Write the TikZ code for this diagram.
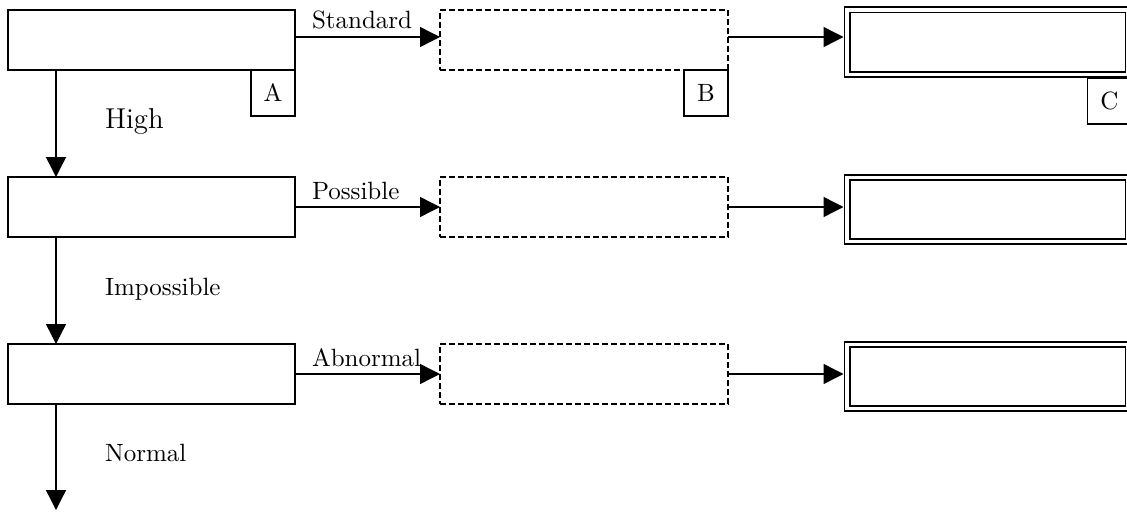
\documentclass[tikz,border=0pt]{standalone}
\usepackage{tikz}
\usetikzlibrary{arrows.meta}
\usetikzlibrary{positioning}
\tikzset{>={Triangle[length=8pt,width=8pt]}}
\tikzset{
  stepbox/.style={draw, line width=0.8pt, minimum width=114.8pt, minimum height=24pt},
  guessbox/.style={draw, line width=0.75pt, dash pattern=on 2.4pt off 1.2pt, minimum width=115.2pt, minimum height=24pt},
  endbox/.style={draw, line width=0.75pt, double, double distance=1.3pt, outer sep=1.4pt, minimum width=112.4pt, minimum height=25.8pt},
  tagbox/.style={draw, line width=0.7pt, minimum width=17.6pt, minimum height=18.4pt, anchor=north east},
  flow/.style={->, line width=0.55pt},
  lbl/.style={font=\fontsize{10}{12}\selectfont}
}

\begin{document}
\begin{tikzpicture}[x=0.4pt, y=-0.4pt, inner sep=0pt, outer sep=0pt]
\useasboundingbox (0,0) rectangle (1127,513);
\clip (0,0) rectangle (1127,513);
% left column
\node[stepbox] (a1) at (151.5,40) {};
\node[stepbox] (a2) at (151.5,207) {};
\node[stepbox] (a3) at (151.5,374) {};
% middle column
\node[guessbox] (b1) at (584,40) {};
\node[guessbox] (b2) at (584,207) {};
\node[guessbox] (b3) at (584,374) {};
% right column
\node[endbox] (c1) at (987.5,42.25) {};
\node[endbox] (c2) at (987.5,209.5) {};
\node[endbox] (c3) at (987.5,376.5) {};
% tags
\node[tagbox] (ta) at (a1.south east) {A};
\node[tagbox] (tb) at (b1.south east) {B};
\node[tagbox] (tc) at (c1.south east) {C};
\coordinate (col) at (56,0);
\coordinate (tail) at (56,510);
% down the left side
\draw[flow] (a1.south -| col) -- node[midway, anchor=base west, xshift=19.6pt, yshift=-1.8pt, font=\fontsize{11.5}{13}\selectfont] {High} (a2.north -| col);
\draw[flow] (a2.south -| col) -- node[midway, anchor=base west, xshift=19.6pt, yshift=-1.8pt, lbl] {Impossible} (a3.north -| col);
\draw[flow] (a3.south -| col) -- node[midway, anchor=base west, xshift=19.6pt, yshift=-1.8pt, lbl] {Normal} (tail);
% across
\draw[flow] ([yshift=1.2pt]a1.east) -- node[pos=0, anchor=south west, xshift=6.8pt, yshift=3pt, lbl] {Standard} ([yshift=1.2pt]b1.west);
\draw[flow] ([yshift=1.2pt]b1.east) -- ([yshift=1.2pt]c1.west |- b1.east);
\draw[flow] (a2.east) -- node[pos=0, anchor=south west, xshift=6.8pt, yshift=3pt, lbl] {Possible} (b2.west);
\draw[flow] (b2.east) -- (c2.west |- b2.east);
\draw[flow] (a3.east) -- node[pos=0, anchor=south west, xshift=6.8pt, yshift=3pt, lbl] {Abnormal} (b3.west);
\draw[flow] (b3.east) -- (c3.west |- b3.east);
\end{tikzpicture}
\end{document}
